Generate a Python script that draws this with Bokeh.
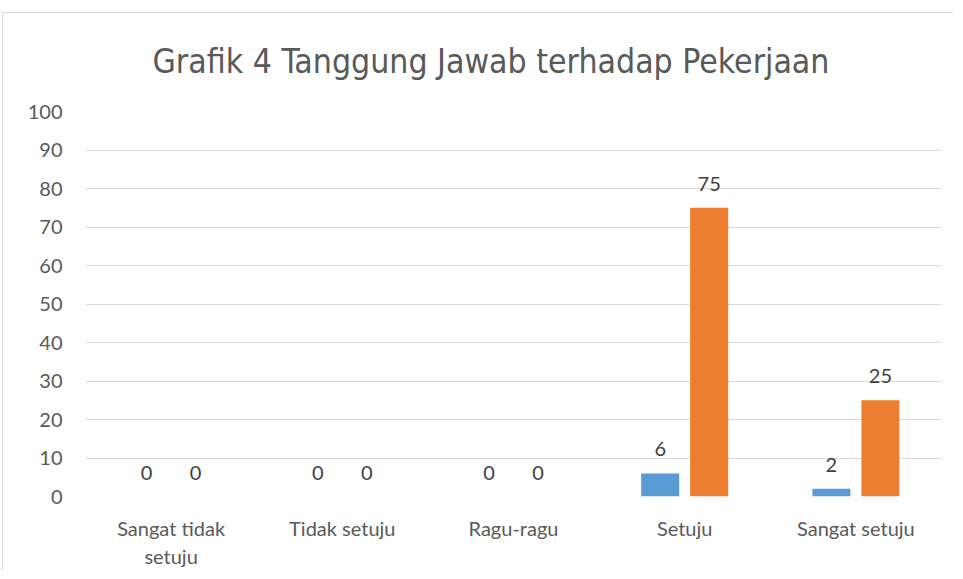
from bokeh.plotting import figure
from bokeh.models import ColumnDataSource, FixedTicker
from bokeh.transform import dodge
from bokeh.embed import file_html
from bokeh.resources import INLINE
from bokeh.core.properties import value

title_text = "Grafik 4 Tanggung Jawab terhadap Pekerjaan"
categories = ["Sangat tidak\nsetuju", "Tidak setuju", "Ragu-ragu", "Setuju", "Sangat setuju"]
jumlah = [0, 0, 0, 6, 2]
persen = [0, 0, 0, 75, 25]
y_ticks = [0, 10, 20, 30, 40, 50, 60, 70, 80, 90, 100]

src = ColumnDataSource(data=dict(
    cat=categories,
    jumlah=jumlah,
    persen=persen,
    jumlah_lbl=[str(v) for v in jumlah],
    persen_lbl=[str(v) for v in persen],
))

LABEL_FONT = "Lato"
GRAY = "#595959"

p = figure(
    x_range=categories, y_range=(0, 100),
    width=951, height=558,
    output_backend="svg", toolbar_location=None,
    min_border_left=82, min_border_right=13,
    min_border_top=97, min_border_bottom=75,
    title=title_text,
)
p.styles = {"border-left": "1px solid #d9d9d9", "border-top": "1px solid #d9d9d9",
            "margin-top": "12px", "margin-left": "2px"}

p.title.align = "left"
p.title.offset = 67
p.title.vertical_align = "top"
p.title.text_font = "'Liberation Sans Narrow', 'DejaVu Sans Condensed', sans-serif"
p.title.text_font_size = "33.5px"
p.title.text_font_style = "normal"
p.title.text_color = GRAY
p.title.standoff = 57

p.outline_line_color = None
p.background_fill_color = "white"
p.border_fill_color = "white"

p.vbar(x=dodge("cat", -0.143, range=p.x_range), top="jumlah", width=0.222,
       source=src, fill_color="#5B9BD5", line_color=None)
p.vbar(x=dodge("cat", 0.143, range=p.x_range), top="persen", width=0.222,
       source=src, fill_color="#ED7D31", line_color=None)

for col, lbl in (("jumlah", "jumlah_lbl"), ("persen", "persen_lbl")):
    off = -0.143 if col == "jumlah" else 0.143
    p.text(x=dodge("cat", off, range=p.x_range), y=col, text=lbl, source=src,
           text_align="center", text_baseline="alphabetic", y_offset=-24,
           text_font=value(LABEL_FONT), text_font_size="20px", text_color="#404040")

p.xgrid.grid_line_color = None
p.ygrid.grid_line_color = "#d9d9d9"
p.ygrid.grid_line_width = 1
p.yaxis.ticker = FixedTicker(ticks=y_ticks)

for ax in (p.xaxis, p.yaxis):
    ax.axis_line_color = None
    ax.major_tick_line_color = None
    ax.minor_tick_line_color = None
    ax.major_label_text_font = LABEL_FONT
    ax.major_label_text_font_size = "20px"
    ax.major_label_text_color = GRAY

p.yaxis.major_label_standoff = 17
p.xaxis.major_label_standoff = 13
p.x_range.range_padding = 0

open("out.html", "w").write(file_html(p, INLINE))
